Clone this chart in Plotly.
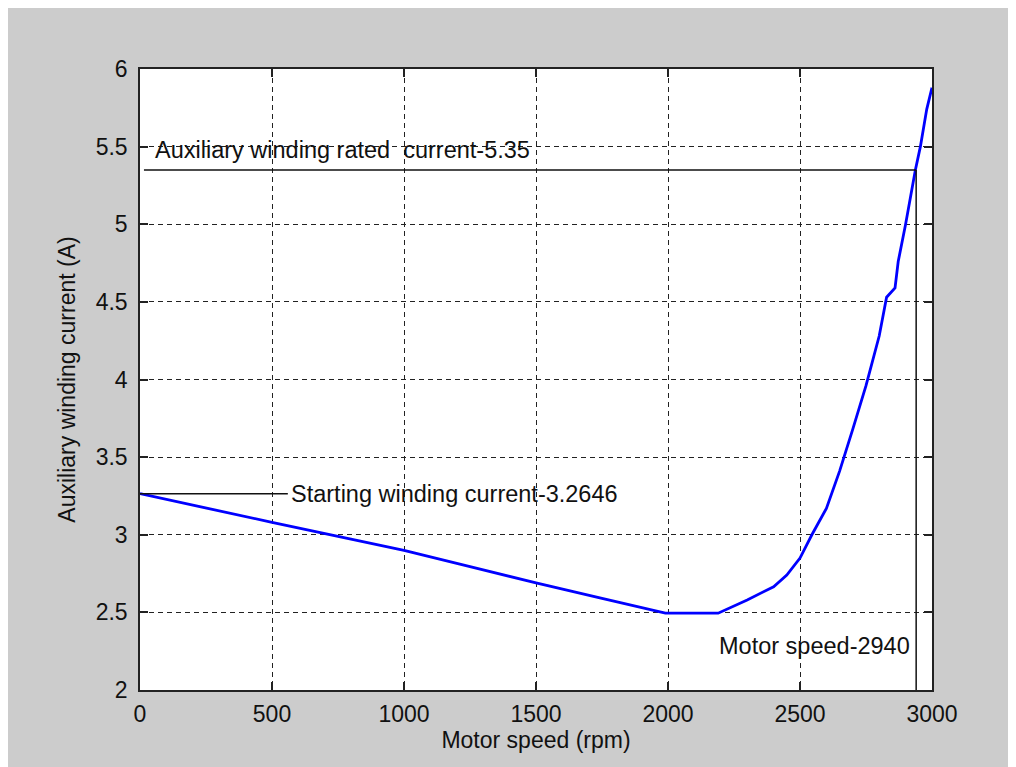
import plotly.graph_objects as go

# ---- data ----
speed_rpm = [0, 250, 500, 750, 1000, 1250, 1500, 1750, 1990, 2190, 2300, 2400,
             2450, 2500, 2545, 2600, 2650, 2700, 2750, 2800, 2828, 2860, 2872,
             2900, 2937, 2956, 2980, 3000]
aux_current = [3.2646, 3.17, 3.08, 2.99, 2.90, 2.795, 2.69, 2.59, 2.495, 2.495,
               2.58, 2.665, 2.74, 2.85, 3.0, 3.17, 3.41, 3.68, 3.96, 4.28,
               4.53, 4.59, 4.76, 5.0, 5.35, 5.5, 5.74, 5.88]

rated_line_x = [15, 2940]
rated_line_y = [5.35, 5.35]
speed_line_x = [2940, 2940]
speed_line_y = [5.35, 2.0]
start_line_x = [0, 560]
start_line_y = [3.2646, 3.2646]

annot_texts = ["Auxiliary winding rated  current-5.35",
               "Starting winding current-3.2646",
               "Motor speed-2940"]
annot_x = [50, 565, 2184]
annot_y = [5.478, 3.2646, 2.283]

x_ticks = [0, 500, 1000, 1500, 2000, 2500, 3000]
y_ticks = [2, 2.5, 3, 3.5, 4, 4.5, 5, 5.5, 6]
x_title = "Motor speed (rpm)"
y_title = "Auxiliary winding current (A)"

FONT = "Liberation Sans, Arial, sans-serif"
FS = 23

fig = go.Figure()
fig.add_trace(go.Scatter(x=speed_rpm, y=aux_current, mode="lines",
                         line=dict(color="#0000ff", width=2.8), showlegend=False))
for lx, ly in [(rated_line_x, rated_line_y), (speed_line_x, speed_line_y),
               (start_line_x, start_line_y)]:
    fig.add_trace(go.Scatter(x=lx, y=ly, mode="lines",
                             line=dict(color="#111111", width=1.5), showlegend=False))

for t, ax_, ay_ in zip(annot_texts, annot_x, annot_y):
    fig.add_annotation(x=ax_, y=ay_, text=t, showarrow=False, xanchor="left",
                       yanchor="middle", font=dict(family=FONT, size=23.5, color="#111111"))

axis_common = dict(
    showline=True, linecolor="#222222", linewidth=1.5, mirror="allticks",
    ticks="inside", ticklen=8, tickcolor="#222222", tickwidth=1.5,
    showgrid=True, gridcolor="#222222", gridwidth=1.2, griddash="5px,4px",
    zeroline=False, tickfont=dict(family=FONT, size=FS, color="#111111"),
)

fig.update_xaxes(range=[0, 3000], tickvals=x_ticks, ticktext=[str(v) for v in x_ticks],
                 title=dict(text=x_title, font=dict(family=FONT, size=FS, color="#111111"),
                            standoff=2),
                 ticklabelstandoff=3, **axis_common)
fig.update_yaxes(range=[2, 6], tickvals=y_ticks, ticktext=[f"{v:g}" for v in y_ticks],
                 title=dict(text=y_title, font=dict(family=FONT, size=FS, color="#111111"),
                            standoff=14),
                 ticklabelstandoff=6, **axis_common)

# page body has an 8px margin, so the figure is laid out 8px smaller
fig.update_layout(
    width=1008, height=759,
    margin=dict(l=132, r=84, t=61, b=77, autoexpand=False),
    paper_bgcolor="#cccccc", plot_bgcolor="white",
    font=dict(family=FONT, size=FS, color="#111111"),
)

fig.write_html("out.html")
